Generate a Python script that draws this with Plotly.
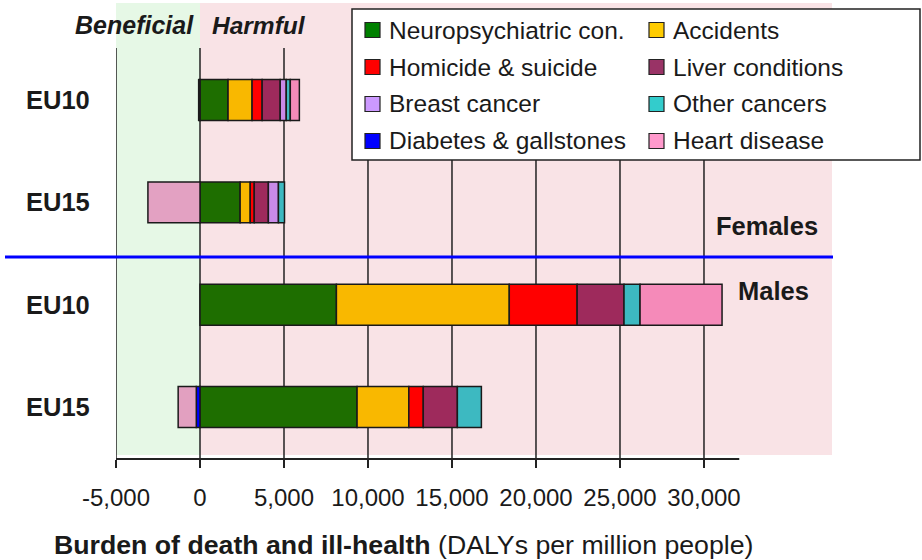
import plotly.graph_objects as go

# ---------------- data ----------------
groups = ["EU10 Females", "EU15 Females", "EU10 Males", "EU15 Males"]
group_labels = ["EU10", "EU15", "EU10", "EU15"]
group_pos = [3, 2, 1, 0]

neuro = [1670, 2390, 8120, 9350]
accidents = [1430, 600, 10290, 3080]
homicide = [600, 240, 4040, 860]
liver = [1075, 840, 2790, 2030]
breast = [360, 600, None, None]
other_cancers = [240, 360, 955, 1430]
diabetes = [-80, None, None, -220]
heart = [540, -3100, 4880, -1080]

series_names = ["Neuropsychiatric con.", "Accidents", "Homicide & suicide", "Liver conditions",
                "Breast cancer", "Other cancers", "Diabetes & gallstones", "Heart disease"]
series_values = [neuro, accidents, homicide, liver, breast, other_cancers, diabetes, heart]
bar_colors = ["#1E6E00", "#F9B800", "#FF0000", "#9E2A5C", "#C98AE8", "#3DB9C1", "#0000FF",
              ["#F58AB9", "#E3A1C2", "#F58AB9", "#E2A0C0"]]
legend_colors = ["#008000", "#FFCC00", "#FF0000", "#993366", "#CC99FF", "#33CCCC", "#0000FF", "#FF99CC"]

tick_vals = [-5000, 0, 5000, 10000, 15000, 20000, 25000, 30000]
tick_text = ["-5,000", "0", "5,000", "10,000", "15,000", "20,000", "25,000", "30,000"]

# ---------------- layout helpers ----------------
W_FIG, H_FIG = 922, 560
L, R, T, B = 116, 832, 3, 459
PW, PH = R - L, B - T
FONT = "Liberation Sans, Arial, sans-serif"
TXT = "#1a1a1a"


def px(x):
    return (x - L) / PW


def py(y):
    return 1 - (y - T) / PH


fig = go.Figure()
for name, vals, col in zip(series_names, series_values, bar_colors):
    fig.add_trace(go.Bar(
        y=group_pos, x=vals, name=name, orientation="h",
        marker=dict(color=col, line=dict(color="#1a1a1a", width=1.5)),
        showlegend=False,
    ))

shapes = []
# background zones
shapes.append(dict(type="rect", xref="x", yref="paper", x0=-5000, x1=0, y0=py(455), y1=py(3),
                   fillcolor="#E6F8E6", line=dict(width=0), layer="below"))
shapes.append(dict(type="rect", xref="x", yref="paper", x0=0, x1=37620, y0=py(455), y1=py(3),
                   fillcolor="#F9E3E6", line=dict(width=0), layer="below"))
# vertical grid lines
for v in tick_vals:
    shapes.append(dict(type="line", xref="x", yref="paper", x0=v, x1=v, y0=0, y1=py(48),
                       line=dict(color="#222222", width=1.5), layer="below"))
# axis line
shapes.append(dict(type="line", xref="x", yref="paper", x0=-5000, x1=32100, y0=0, y1=0,
                   line=dict(color="#222222", width=2), layer="above"))
# separator line between females and males
shapes.append(dict(type="line", xref="paper", yref="paper", x0=px(5), x1=px(833), y0=py(257), y1=py(257),
                   line=dict(color="#0000FF", width=3), layer="above"))
# legend box
shapes.append(dict(type="rect", xref="paper", yref="paper", x0=px(352), x1=px(920), y0=py(160), y1=py(9),
                   fillcolor="white", line=dict(color="#222222", width=1.5), layer="above"))

annotations = []
row_y = [30, 67, 104, 141]
col_sw = [365, 649]
col_tx = [387, 671]
for i, (name, col) in enumerate(zip(series_names, legend_colors)):
    r, c = divmod(i, 2)
    yc = row_y[r]
    shapes.append(dict(type="rect", xref="paper", yref="paper", x0=px(col_sw[c]), x1=px(col_sw[c] + 15),
                       y0=py(yc + 7.5), y1=py(yc - 7.5), fillcolor=col,
                       line=dict(color="#222222", width=1.2), layer="above"))
    annotations.append(dict(text=name, xref="paper", yref="paper", x=px(col_tx[c]), y=py(yc),
                            xanchor="left", yanchor="middle", showarrow=False,
                            font=dict(size=24.5, color=TXT, family=FONT)))

# group labels
for lab, pos in zip(group_labels, group_pos):
    annotations.append(dict(text="<b>%s</b>" % lab, xref="paper", yref="y", x=px(92), y=pos,
                            xanchor="right", yanchor="middle", showarrow=False,
                            font=dict(size=25.5, color=TXT, family=FONT)))

annotations += [
    dict(text="<b>Females</b>", xref="paper", yref="paper", x=px(767), y=py(226), xanchor="center",
         yanchor="middle", showarrow=False, font=dict(size=25.5, color=TXT, family=FONT)),
    dict(text="<b>Males</b>", xref="paper", yref="paper", x=px(773), y=py(291), xanchor="center",
         yanchor="middle", showarrow=False, font=dict(size=25.5, color=TXT, family=FONT)),
    dict(text="<b><i>Beneficial</i></b>", xref="paper", yref="paper", x=px(134), y=py(25), xanchor="center",
         yanchor="middle", showarrow=False, font=dict(size=25, color=TXT, family=FONT)),
    dict(text="<b><i>Harmful</i></b>", xref="paper", yref="paper", x=px(259), y=py(25), xanchor="center",
         yanchor="middle", showarrow=False, font=dict(size=24.5, color=TXT, family=FONT)),
    dict(text="<b>Burden of death and ill-health</b> (DALYs per million people)", xref="paper",
         yref="paper", x=px(52), y=py(545), xanchor="left", yanchor="middle", showarrow=False,
         font=dict(size=26.7, color=TXT, family=FONT)),
]

fig.update_layout(
    width=W_FIG, height=H_FIG,
    margin=dict(l=L, r=W_FIG - R, t=T, b=H_FIG - B, pad=0),
    paper_bgcolor="white", plot_bgcolor="rgba(0,0,0,0)",
    barmode="relative", bargap=0.6,
    font=dict(family=FONT, color=TXT),
    shapes=shapes, annotations=annotations,
    xaxis=dict(range=[-5000, 37620], tickvals=tick_vals, ticktext=tick_text,
               showgrid=False, zeroline=False, showline=False,
               ticks="outside", ticklen=8, tickwidth=1.5, tickcolor="#222222",
               ticklabelstandoff=9, tickfont=dict(size=24, family=FONT, color=TXT)),
    yaxis=dict(range=[-0.508, 3.948], showticklabels=False, showgrid=False, zeroline=False,
               showline=False, ticks=""),
)

fig.write_html("out.html", config={"displayModeBar": False},
               post_script="document.body.style.margin='0';document.body.style.overflow='hidden';")
